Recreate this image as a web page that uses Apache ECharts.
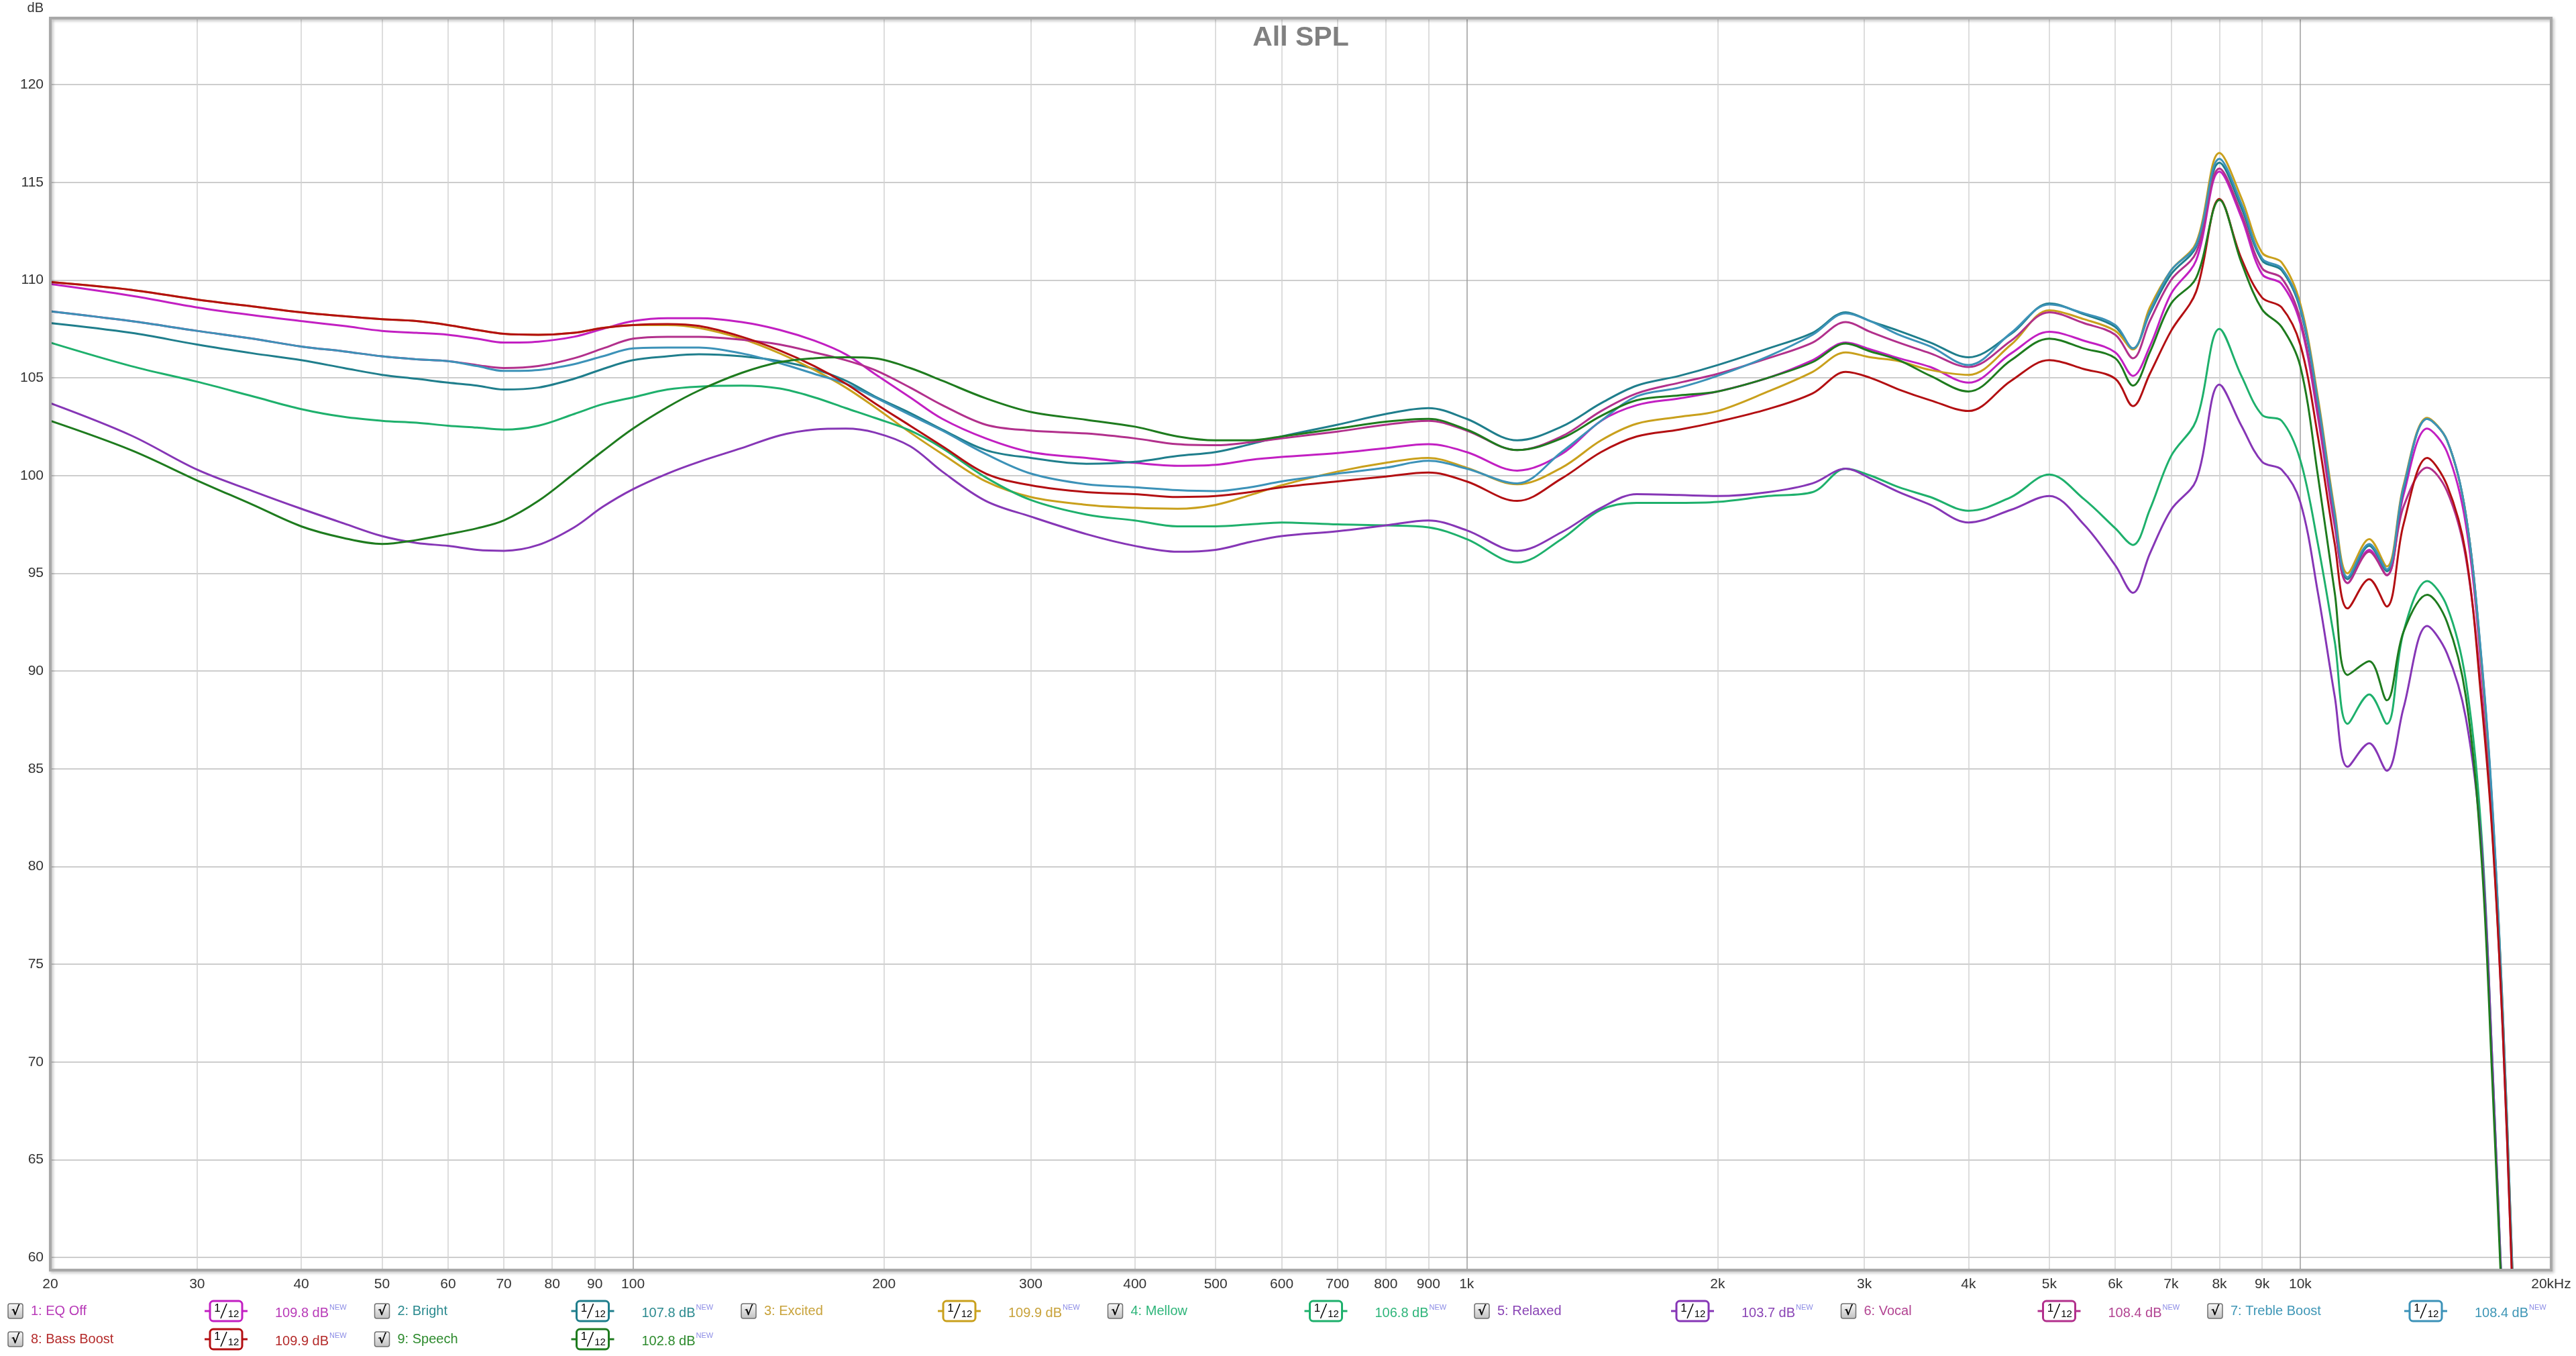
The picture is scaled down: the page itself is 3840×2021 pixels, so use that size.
<!DOCTYPE html>
<html>
<head>
<meta charset="utf-8">
<script src="https://cdn.jsdelivr.net/npm/echarts@6/dist/echarts.min.js"></script>
<style>html,body{margin:0;padding:0;background:#fff;overflow:hidden}#c{width:3840px;height:2021px}</style>
</head>
<body>
<div id="c"></div>
<script>
// ---------------- data ----------------
const freqHz = [20,25,30,35,40,45,50,55,60,65,70,77,85,92,100,110,120,135,150,165,180,195,215,235,265,300,350,400,450,500,550,600,700,800,900,1000,1150,1300,1450,1600,1800,2000,2300,2600,2850,3050,3300,3600,4000,4500,5000,5500,6000,6300,6600,7000,7500,8000,8500,9000,9500,10000,10500,11000,11400,12100,12700,13300,14200,15000,15800,16500,17000,17500,18000];

const eqOff = [109.8,109.2,108.6,108.2,107.9,107.65,107.4,107.3,107.2,107.0,106.8,106.85,107.1,107.5,107.9,108.05,108.05,107.85,107.45,106.9,106.2,105.2,104.0,102.9,101.9,101.2,100.9,100.65,100.5,100.55,100.8,100.95,101.15,101.4,101.6,101.2,100.25,101.1,102.8,103.6,103.95,104.3,105.0,105.9,106.8,106.45,106.0,105.55,104.75,106.25,107.35,106.9,106.3,105.1,106.6,109.3,111.0,115.55,113.2,110.3,109.8,107.8,103.0,97.4,94.5,96.2,94.9,99.0,102.4,101.2,97.5,90.0,82.6,72.0,58.0];
const bright = [107.8,107.3,106.7,106.25,105.9,105.5,105.15,104.95,104.75,104.6,104.4,104.5,104.95,105.45,105.9,106.1,106.2,106.1,105.85,105.45,104.85,104.05,103.2,102.35,101.3,100.9,100.6,100.7,101.0,101.2,101.6,102.0,102.6,103.15,103.45,102.9,101.8,102.5,103.7,104.6,105.1,105.65,106.5,107.3,108.35,107.9,107.4,106.8,106.05,107.25,108.8,108.25,107.6,106.5,108.3,110.3,111.7,116.0,113.7,111.0,110.5,108.5,103.7,97.9,94.7,96.4,95.1,99.3,102.9,101.8,98.0,90.5,83.0,72.3,58.3];
const excited = [109.9,109.5,109.0,108.65,108.35,108.15,108.0,107.9,107.7,107.45,107.25,107.2,107.3,107.55,107.7,107.7,107.55,107.0,106.25,105.4,104.5,103.5,102.2,101.1,99.7,98.9,98.5,98.35,98.3,98.5,99.0,99.5,100.2,100.65,100.9,100.4,99.55,100.4,101.8,102.65,103.0,103.3,104.3,105.3,106.3,106.05,105.85,105.4,105.15,106.7,108.45,108.0,107.4,106.45,108.6,110.5,111.9,116.5,114.2,111.4,110.9,108.8,104.0,98.2,95.0,96.75,95.35,99.5,102.95,101.8,98.0,90.4,82.9,72.5,58.5];
const mellow = [106.8,105.6,104.8,104.05,103.4,103.0,102.8,102.7,102.55,102.45,102.35,102.55,103.15,103.65,104.0,104.4,104.55,104.6,104.45,104.0,103.45,102.95,102.3,101.4,99.9,98.75,98.0,97.7,97.4,97.4,97.5,97.6,97.5,97.45,97.35,96.75,95.55,96.75,98.25,98.6,98.6,98.65,98.95,99.15,100.35,100.0,99.4,98.9,98.2,98.9,100.05,98.8,97.3,96.45,98.25,101.0,102.8,107.5,105.1,103.1,102.8,100.8,96.5,91.5,87.3,88.8,87.3,92.0,94.6,93.3,89.5,81.6,70.0,57.0,45.0];
const relaxed = [103.7,102.05,100.3,99.2,98.3,97.55,96.9,96.55,96.4,96.2,96.15,96.45,97.35,98.4,99.3,100.1,100.7,101.4,102.05,102.35,102.4,102.2,101.5,100.2,98.7,97.9,97.0,96.4,96.1,96.2,96.6,96.9,97.15,97.45,97.7,97.2,96.15,97.1,98.35,99.05,99.0,98.95,99.15,99.6,100.35,99.85,99.15,98.5,97.6,98.25,98.95,97.5,95.4,94.0,96.0,98.25,99.75,104.65,102.55,100.7,100.3,98.65,94.0,88.7,85.1,86.3,84.9,88.1,92.3,90.9,87.6,81.0,70.0,57.0,45.0];
const vocal = [108.4,107.9,107.4,107.0,106.6,106.35,106.1,105.95,105.85,105.65,105.5,105.6,106.0,106.5,107.0,107.1,107.1,106.95,106.7,106.3,105.9,105.4,104.5,103.6,102.6,102.3,102.15,101.9,101.6,101.55,101.7,101.9,102.25,102.6,102.8,102.3,101.3,102.0,103.3,104.2,104.75,105.2,106.0,106.8,107.85,107.35,106.8,106.25,105.55,106.9,108.35,107.8,107.2,106.0,107.9,110.0,111.4,115.7,113.4,110.6,110.1,108.0,103.2,97.5,94.5,96.1,94.9,98.4,100.4,99.2,95.8,88.8,81.8,71.5,57.5];
const trebleBoost = [108.4,107.9,107.4,107.0,106.6,106.35,106.1,105.95,105.85,105.6,105.35,105.4,105.7,106.1,106.5,106.55,106.55,106.25,105.75,105.2,104.7,104.0,103.1,102.3,101.1,100.1,99.55,99.4,99.25,99.2,99.4,99.7,100.1,100.4,100.75,100.35,99.6,101.2,102.8,104.05,104.5,105.1,106.1,107.2,108.3,107.9,107.2,106.6,105.65,107.3,108.75,108.3,107.7,106.5,108.4,110.5,111.8,116.2,113.9,111.1,110.6,108.6,103.8,98.0,94.8,96.5,95.2,99.4,102.9,101.8,98.0,90.6,83.2,72.5,58.5];
const bassBoost = [109.9,109.5,109.0,108.65,108.35,108.15,108.0,107.9,107.7,107.45,107.25,107.2,107.3,107.55,107.7,107.75,107.65,107.1,106.4,105.6,104.7,103.7,102.55,101.5,100.1,99.5,99.15,99.05,98.9,98.95,99.15,99.4,99.7,99.95,100.15,99.7,98.7,99.85,101.2,102.0,102.35,102.75,103.4,104.2,105.3,105.0,104.4,103.85,103.3,104.85,105.9,105.45,104.95,103.55,105.2,107.4,109.4,114.15,111.1,109.1,108.6,106.7,102.0,96.5,93.2,94.7,93.3,97.5,100.9,99.5,96.0,88.4,81.6,71.5,57.5];
const speech = [102.8,101.3,99.75,98.5,97.4,96.8,96.5,96.7,97.0,97.3,97.7,98.7,100.1,101.25,102.4,103.5,104.35,105.25,105.8,106.0,106.05,106.0,105.5,104.85,103.95,103.25,102.85,102.5,102.0,101.8,101.8,102.0,102.4,102.75,102.9,102.35,101.3,101.9,103.05,103.85,104.1,104.3,105.0,105.8,106.75,106.35,105.9,105.1,104.3,105.9,107.0,106.5,106.0,104.6,106.3,108.8,110.1,114.1,110.9,108.5,107.6,105.6,100.0,94.0,89.8,90.5,88.5,92.0,93.9,92.5,88.7,80.4,69.0,56.5,44.0];

const seriesNames = ['1: EQ Off','2: Bright','3: Excited','4: Mellow','5: Relaxed','6: Vocal','7: Treble Boost','8: Bass Boost','9: Speech'];
const xTickHz = [20,30,40,50,60,70,80,90,100,200,300,400,500,600,700,800,900,1000,2000,3000,4000,5000,6000,7000,8000,9000,10000,20000];
const yTicks = [60,65,70,75,80,85,90,95,100,105,110,115,120];
const titleText = 'All SPL';
const yUnit = 'dB';

// ---------------- styling ----------------
const FONT = "'Liberation Sans', Arial, sans-serif";
const curves = [
  {name: seriesNames[0], data: eqOff,       line: '#C21FC2', text: '#B83AB8', col: 0, row: 0},
  {name: seriesNames[1], data: bright,      line: '#1F7E8C', text: '#2B8A8F', col: 1, row: 0},
  {name: seriesNames[2], data: excited,     line: '#C9A01C', text: '#C8A23A', col: 2, row: 0},
  {name: seriesNames[3], data: mellow,      line: '#1EB06C', text: '#2EB57A', col: 3, row: 0},
  {name: seriesNames[4], data: relaxed,     line: '#8636B6', text: '#8A45B5', col: 4, row: 0},
  {name: seriesNames[5], data: vocal,       line: '#B2308C', text: '#B24492', col: 5, row: 0},
  {name: seriesNames[6], data: trebleBoost, line: '#3C92B8', text: '#3E96B6', col: 6, row: 0},
  {name: seriesNames[7], data: bassBoost,   line: '#B30F12', text: '#B42A2A', col: 0, row: 1},
  {name: seriesNames[8], data: speech,      line: '#1E7B1E', text: '#2C8A2C', col: 1, row: 1}
];

const GL = 75, GT = 27, GR = 3803, GB = 1893;
const xTickLog = xTickHz.map(f => Math.log10(f));
const decade = new Set([100, 1000, 10000]);
const xGridColors = xTickHz.map(f => decade.has(f) ? '#9c9c9c' : '#d2d2d2');

function fmtHz(v) {
  const f = Math.round(Math.pow(10, v));
  if (f === 20000) return '20kHz';
  if (f >= 1000) return (f / 1000) + 'k';
  return String(f);
}

// ---------------- legend graphics ----------------
const graphics = [];
curves.forEach(c => {
  const x0 = 12 + 546.5 * c.col;
  const yc = c.row === 0 ? 1954 : 1996;
  graphics.push({
    type: 'rect', z: 10,
    shape: {x: x0, y: yc - 11, width: 22, height: 22, r: 3},
    style: {fill: {type: 'linear', x: 0, y: 0, x2: 0, y2: 1,
      colorStops: [{offset: 0, color: '#fbfbfb'}, {offset: 1, color: '#bfbfbf'}]},
      stroke: '#6f6f6f', lineWidth: 1.5}
  });
  graphics.push({
    type: 'text', z: 11, x: x0 + 11, y: yc + 1,
    style: {text: '√', fill: '#000', fontSize: 19, fontWeight: 'bold', fontFamily: "'DejaVu Sans', sans-serif", align: 'center', verticalAlign: 'middle'}
  });
  graphics.push({
    type: 'text', z: 10, x: x0 + 34, y: yc,
    style: {text: c.name, fill: c.text, fontSize: 20, fontFamily: FONT, align: 'left', verticalAlign: 'middle'}
  });
  // 1/12 smoothing icon
  graphics.push({type: 'line', z: 10, shape: {x1: x0 + 293, y1: yc, x2: x0 + 302, y2: yc}, style: {stroke: c.line, lineWidth: 3}});
  graphics.push({type: 'line', z: 10, shape: {x1: x0 + 348, y1: yc, x2: x0 + 357, y2: yc}, style: {stroke: c.line, lineWidth: 3}});
  graphics.push({type: 'rect', z: 10, shape: {x: x0 + 301, y: yc - 15, width: 48, height: 30, r: 5},
    style: {fill: '#fff', stroke: c.line, lineWidth: 3}});
  graphics.push({type: 'text', z: 11, x: x0 + 312, y: yc - 4,
    style: {text: '1', fill: '#000', fontSize: 17, fontFamily: FONT, align: 'center', verticalAlign: 'middle'}});
  graphics.push({type: 'line', z: 11, shape: {x1: x0 + 317, y1: yc + 11, x2: x0 + 326, y2: yc - 11}, style: {stroke: '#000', lineWidth: 1.5}});
  graphics.push({type: 'text', z: 11, x: x0 + 336, y: yc + 5,
    style: {text: '12', fill: '#000', fontSize: 15, fontFamily: FONT, align: 'center', verticalAlign: 'middle'}});
  // value
  graphics.push({
    type: 'text', z: 10, x: x0 + 398, y: yc,
    style: {
      text: '{v|' + c.data[0].toFixed(1) + ' dB}{n|NEW}',
      fontFamily: FONT, verticalAlign: 'middle', align: 'left',
      rich: {
        v: {fontSize: 20, fill: c.text, fontFamily: FONT, lineHeight: 26, verticalAlign: 'bottom'},
        n: {fontSize: 11, fill: '#8c8ce6', fontFamily: FONT, lineHeight: 26, verticalAlign: 'top', padding: [2, 0, 0, 1]}
      }
    }
  });
});
// frame
graphics.push({
  type: 'rect', z: 50, silent: true,
  shape: {x: GL, y: GT, width: GR - GL, height: GB - GT},
  style: {fill: null, stroke: '#a8a8a8', lineWidth: 4, shadowColor: 'rgba(0,0,0,0.28)', shadowBlur: 4, shadowOffsetX: 2, shadowOffsetY: 2}
});
// title + unit
graphics.push({type: 'text', z: 20, x: (GL + GR) / 2, y: 57,
  style: {text: titleText, fill: '#808080', fontSize: 41, fontWeight: 'bold', fontFamily: FONT, align: 'center', verticalAlign: 'middle'}});
graphics.push({type: 'text', z: 20, x: 65, y: 12,
  style: {text: yUnit, fill: '#333', fontSize: 20, fontFamily: FONT, align: 'right', verticalAlign: 'middle'}});

// ---------------- chart ----------------
const chart = echarts.init(document.getElementById('c'), null, {renderer: 'canvas', width: 3840, height: 2021});
chart.setOption({
  animation: false,
  backgroundColor: '#ffffff',
  grid: {left: GL, top: GT, right: 3840 - GR, bottom: 2021 - GB, show: false, containLabel: false},
  xAxis: [
    {type: 'log', logBase: 10, min: 20, max: 20000, show: false},
    {type: 'value', min: Math.log10(20), max: Math.log10(20000), position: 'bottom',
     axisLine: {show: false}, axisTick: {show: false, customValues: xTickLog},
     axisLabel: {customValues: xTickLog, formatter: fmtHz, fontSize: 21, color: '#333', margin: 11, fontFamily: FONT},
     splitLine: {show: true, lineStyle: {color: xGridColors, width: 1.5}}}
  ],
  yAxis: {
    type: 'value', min: 59.35, max: 123.4,
    axisLine: {show: false}, axisTick: {show: false, customValues: yTicks},
    axisLabel: {customValues: yTicks, fontSize: 21, color: '#333', margin: 10, fontFamily: FONT},
    splitLine: {show: true, lineStyle: {color: '#cdcdcd', width: 2}}
  },
  series: curves.map(c => ({
    name: c.name, type: 'line', xAxisIndex: 0, yAxisIndex: 0,
    data: freqHz.map((f, i) => [f, c.data[i]]),
    showSymbol: false, symbol: 'none', smooth: 0.35, clip: true,
    lineStyle: {color: c.line, width: 3}, itemStyle: {color: c.line},
    emphasis: {disabled: true}, silent: true
  })),
  graphic: graphics
});
</script>
</body>
</html>
